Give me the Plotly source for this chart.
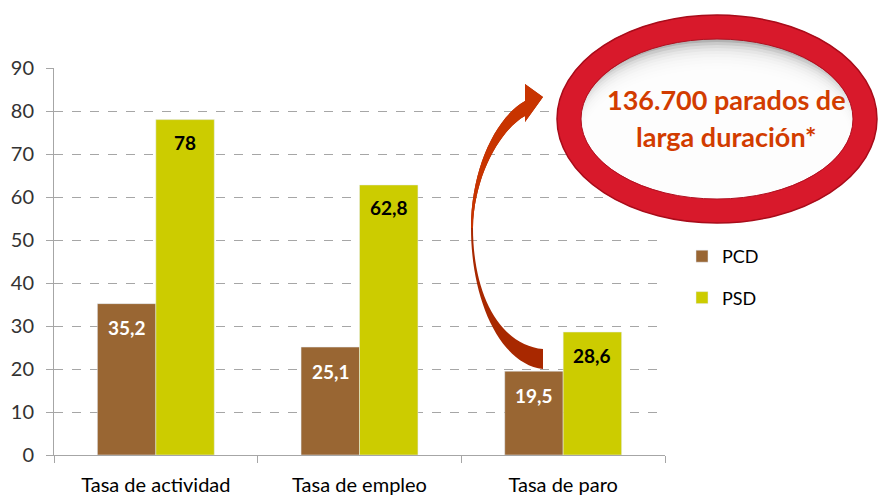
import plotly.graph_objects as go

categories = ["Tasa de actividad", "Tasa de empleo", "Tasa de paro"]
pcd_values = [35.2, 25.1, 19.5]
psd_values = [78, 62.8, 28.6]
series_names = ["PCD", "PSD"]
y_ticks = [0, 10, 20, 30, 40, 50, 60, 70, 80, 90]
callout_lines = ["136.700 parados de", "larga duración*"]

C_PCD = "#996633"
C_PSD = "#CCCC00"
FONT = "Lato"

W, H = 879, 499
L, R, T, B = 54, 665, 68, 455


def px(x):
    return (x - L) / (R - L)


def py(y):
    return (B - y) / (B - T)


def fmt(v):
    return ("%g" % v).replace(".", ",")


fig = go.Figure()
fig.add_trace(go.Bar(x=categories, y=pcd_values, name=series_names[0], marker_color=C_PCD,
                     legendgroup="a", hoverinfo="skip"))
fig.add_trace(go.Bar(x=categories, y=psd_values, name=series_names[1], marker_color=C_PSD,
                     legendgroup="b", hoverinfo="skip"))

annotations = []
for cat, v in zip(categories, pcd_values):
    annotations.append(dict(x=cat, y=v, xref="x", yref="y", text=fmt(v), showarrow=False,
                            xshift=-29, yshift=-24, font=dict(family=FONT, size=19, color="white", weight="bold")))
for cat, v in zip(categories, psd_values):
    annotations.append(dict(x=cat, y=v, xref="x", yref="y", text=fmt(v), showarrow=False,
                            xshift=29, yshift=-23, font=dict(family=FONT, size=19, color="black", weight="bold")))

shapes = []


def P(x, y):
    return "%.5f,%.5f" % (px(x), py(y))


full = "M %s C %s %s %s C %s %s %s L %s L %s L %s L %s C %s %s %s C %s %s %s Z" % (
    P(543, 369), P(500, 364), P(471, 300), P(471, 228),
    P(471, 170), P(495, 118), P(525, 101),
    P(525, 84), P(543, 97), P(525, 122), P(525, 116),
    P(501, 129), P(474, 175), P(473, 228),
    P(473, 295), P(500, 345), P(543, 349))
shapes.append(dict(type="path", xref="paper", yref="paper", path=full,
                   fillcolor="#A82800", line=dict(width=0), layer="above"))
top = "M %s C %s %s %s L %s L %s L %s L %s C %s %s %s Z" % (
    P(471, 228), P(471, 170), P(495, 118), P(525, 101),
    P(525, 84), P(543, 97), P(525, 122), P(525, 116),
    P(501, 129), P(474, 175), P(473, 228))
shapes.append(dict(type="path", xref="paper", yref="paper", path=top,
                   fillcolor="#C83400", line=dict(width=0), layer="above"))

cx, cy = 717, 119


def ell(rx, ry, x0off=0, y0off=0, **kw):
    d = dict(type="circle", xref="paper", yref="paper",
             x0=px(cx - rx + x0off), x1=px(cx + rx - x0off),
             y0=py(cy + ry), y1=py(cy - ry + y0off), layer="above")
    d.update(kw)
    return d


shapes.append(ell(144, 88, fillcolor="#8e8e8e", line=dict(width=0)))
for k in range(12):
    shapes.append(ell(144, 88, x0off=k * 1.0, y0off=8 + k * 3,
                      fillcolor="rgba(255,255,255,0.32)", line=dict(width=0)))
shapes.append(ell(148, 92, line=dict(color="#D8192B", width=24)))
shapes.append(ell(160, 104, line=dict(color="#A80C1A", width=1.5)))
shapes.append(ell(136, 80, line=dict(color="#B01020", width=1)))

for i, line in enumerate(callout_lines):
    annotations.append(dict(x=px(726), y=py(99 + i * 37), xref="paper", yref="paper",
                            text=line, showarrow=False, xanchor="center", yanchor="middle",
                            font=dict(family=FONT, size=27, color="#D23C00", weight="bold")))

fig.update_layout(
    width=W, height=H,
    margin=dict(l=L, r=W - R, t=T, b=H - B, pad=0, autoexpand=False),
    paper_bgcolor="white", plot_bgcolor="white",
    barmode="group", bargap=0.426, bargroupgap=0,
    font=dict(family=FONT, size=17, color="black"),
    showlegend=True,
    legend=dict(x=px(682), y=py(238), xanchor="left", yanchor="top",
                font=dict(family=FONT, size=18, color="black"),
                tracegroupgap=15, bgcolor="rgba(0,0,0,0)"),
    shapes=shapes, annotations=annotations,
)
fig.update_yaxes(range=[0, 90], tickvals=y_ticks, showgrid=True, gridcolor="#A6A6A6",
                 griddash="dash", gridwidth=1, showline=True, linecolor="#A6A6A6", linewidth=1,
                 ticks="outside", ticklen=7, tickcolor="#A6A6A6", ticklabelstandoff=8,
                 zeroline=False, automargin=False,
                 tickfont=dict(family=FONT, size=20, color="#333333"))
fig.update_xaxes(showline=True, linecolor="#A6A6A6", linewidth=1, ticks="outside",
                 tickson="boundaries", ticklen=7, tickcolor="#A6A6A6", ticklabelstandoff=12,
                 automargin=False,
                 tickfont=dict(family=FONT, size=20, color="black"))

fig.write_html("out.html", config={"displayModeBar": False},
               post_script="document.body.style.margin='0';document.body.style.overflow='hidden';")
